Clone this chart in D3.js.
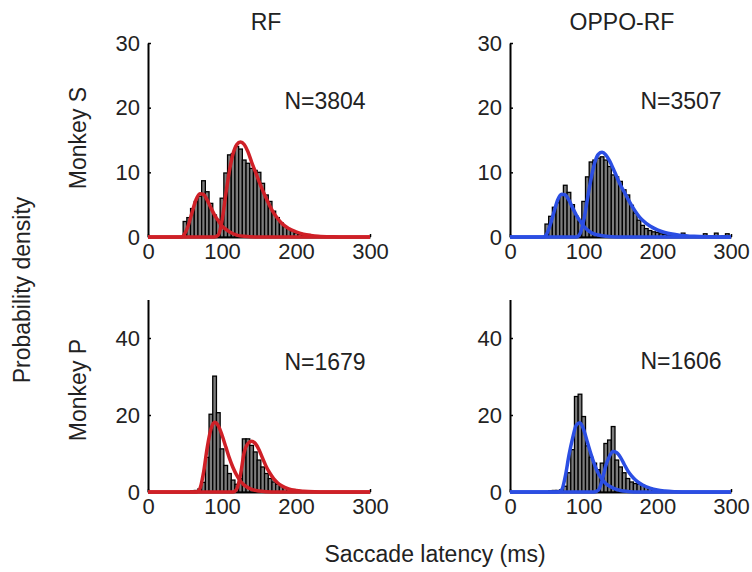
<!DOCTYPE html>
<html>
<head>
<meta charset="utf-8">
<script src="https://cdn.jsdelivr.net/npm/d3@7"></script>
<style>
  body { margin: 0; background: #fff; }
  text { font-family: "Liberation Sans", Arial, sans-serif; fill: #222; }
</style>
</head>
<body>
<div id="chart"></div>
<script>
var svgWidth = 752;
var svgHeight = 572;

// tick labels
var xTicks = [0, 100, 200, 300];
var yTicksS = [0, 10, 20, 30];
var yTicksP = [0, 20, 40];

// histogram bins are 5 ms wide, values listed from the first bin centre
var binWidth = 5;

// Monkey S, RF (first bin centre 50 ms)
var histSRF = [2.4, 3.0, 4.4, 5.5, 6.3, 8.7, 7.0, 5.2, 3.4, 2.6, 6.0, 9.9, 12.7, 12.9, 14.0, 13.6,
  11.9, 11.4, 10.6, 10.3, 10.0, 8.3, 6.5, 5.5, 4.0, 3.0, 2.2, 1.6, 1.3, 0.9, 0.6, 0.4, 0.3, 0.2, 0.1];
// Monkey S, OPPO-RF (first bin centre 50 ms)
var histSOPPO = [2.0, 3.2, 4.6, 5.3, 6.5, 8.0, 6.9, 5.0, 3.2, 2.4, 5.5, 9.3, 11.6, 11.9, 12.2, 12.4,
  11.9, 10.9, 9.6, 9.3, 8.6, 7.3, 6.5, 4.9, 3.7, 2.6, 1.8, 1.3, 1.0, 0.8, 0.7, 0.5, 0.4, 0.3, 0.3,
  0.2, 0.2, 0.6, 0.1, 0.1, 0.1, 0.2, 0.1, 0.5, 0.2, 0.1, 0.6, 0.1, 0.2, 0.5];
// Monkey P, RF (first bin centre 60 ms)
var histPRF = [0.3, 0.4, 0.8, 2.5, 9.0, 20.2, 30.1, 20.6, 11.2, 6.9, 4.8, 3.1, 2.0, 3.5, 13.8, 13.8,
  12.1, 10.4, 8.3, 6.5, 4.8, 3.5, 2.6, 2.0, 1.4, 1.0, 0.8, 0.6, 0.4, 0.2];
// Monkey P, OPPO-RF (first bin centre 55 ms)
var histPOPPO = [0.3, 0.4, 0.4, 0.6, 1.5, 5.0, 11.0, 24.8, 25.4, 19.6, 12.0, 9.0, 7.5, 5.8, 7.5, 12.6,
  13.5, 17.0, 8.3, 6.5, 5.0, 3.5, 2.6, 2.2, 2.0, 1.8, 1.3, 1.0, 0.8, 0.6, 0.2];

// fitted components, [latency ms, density]
var fitSRFfast = [[0, 0], [45, 0], [50, 0.6], [55, 2.0], [60, 4.0], [65, 5.8], [70, 6.7], [75, 6.6],
  [80, 5.7], [85, 4.5], [90, 3.4], [95, 2.5], [100, 1.7], [105, 1.2], [110, 0.8], [115, 0.5],
  [120, 0.3], [130, 0.1], [145, 0], [300, 0]];
var fitSRFslow = [[0, 0], [90, 0], [95, 0.3], [100, 2.5], [105, 6.5], [110, 10.2], [115, 12.9],
  [120, 14.3], [125, 14.7], [130, 14.3], [135, 13.2], [140, 11.6], [145, 10.1], [150, 8.6],
  [155, 7.2], [160, 5.9], [165, 4.7], [170, 3.7], [175, 2.9], [180, 2.2], [190, 1.3], [200, 0.8],
  [210, 0.45], [220, 0.25], [230, 0.12], [250, 0.03], [265, 0], [300, 0]];
var fitSOPPOfast = [[0, 0], [45, 0], [50, 0.5], [55, 2.0], [60, 4.0], [65, 5.8], [70, 6.6], [75, 6.5],
  [80, 5.7], [85, 4.5], [90, 3.4], [95, 2.5], [100, 1.7], [105, 1.1], [110, 0.7], [115, 0.45],
  [120, 0.3], [130, 0.1], [145, 0], [300, 0]];
var fitSOPPOslow = [[0, 0], [90, 0], [95, 0.5], [100, 2.5], [105, 5.8], [110, 9.0], [115, 11.5],
  [120, 12.8], [125, 13.1], [130, 12.7], [135, 11.8], [140, 10.6], [145, 9.3], [150, 8.0],
  [155, 7.0], [160, 5.9], [165, 4.9], [170, 4.0], [175, 3.2], [180, 2.6], [190, 1.7], [200, 1.1],
  [210, 0.7], [220, 0.45], [230, 0.28], [250, 0.1], [270, 0.03], [290, 0], [300, 0]];
var fitPRFfast = [[0, 0], [65, 0], [70, 0.8], [75, 5.0], [80, 11.5], [85, 16.3], [90, 18.1],
  [95, 17.2], [100, 14.8], [105, 11.8], [110, 8.8], [115, 6.3], [120, 4.3], [125, 2.8], [130, 1.8],
  [140, 0.7], [150, 0.25], [160, 0.08], [175, 0], [300, 0]];
var fitPRFslow = [[0, 0], [115, 0], [120, 0.8], [125, 4.5], [130, 10.3], [135, 12.6], [140, 13.2],
  [145, 12.6], [150, 11.0], [155, 8.7], [160, 6.5], [165, 4.8], [170, 3.4], [175, 2.4], [180, 1.7],
  [190, 0.8], [200, 0.4], [210, 0.2], [225, 0.05], [240, 0], [300, 0]];
var fitPOPPOfast = [[0, 0], [65, 0], [70, 0.5], [75, 4.0], [80, 9.5], [85, 14.0], [90, 17.4],
  [95, 18.0], [100, 16.2], [105, 13.0], [110, 9.8], [115, 7.0], [120, 4.8], [125, 3.3], [130, 2.2],
  [140, 1.0], [150, 0.4], [160, 0.15], [175, 0], [300, 0]];
var fitPOPPOslow = [[0, 0], [115, 0], [120, 0.5], [125, 3.0], [130, 6.8], [135, 9.3], [140, 10.5],
  [145, 10.2], [150, 9.0], [155, 7.2], [160, 5.5], [165, 4.2], [170, 3.2], [175, 2.4], [180, 1.8],
  [190, 1.0], [200, 0.5], [210, 0.25], [225, 0.08], [240, 0], [300, 0]];

var red = "#cf2027";
var blue = "#2b4ee3";

var panels = [
  { left: 148, right: 370, bottom: 237, top: 43, yMax: 30, yTicks: yTicksS,
    hist: histSRF, firstBin: 50, fits: [fitSRFfast, fitSRFslow], color: red,
    label: "N=3804", lx: 325, ly: 109 },
  { left: 510, right: 731, bottom: 237, top: 43, yMax: 30, yTicks: yTicksS,
    hist: histSOPPO, firstBin: 50, fits: [fitSOPPOfast, fitSOPPOslow], color: blue,
    label: "N=3507", lx: 681, ly: 109 },
  { left: 148, right: 370, bottom: 492, top: 299.5, yMax: 50, yTicks: yTicksP,
    hist: histPRF, firstBin: 60, fits: [fitPRFfast, fitPRFslow], color: red,
    label: "N=1679", lx: 325, ly: 370 },
  { left: 510, right: 731, bottom: 492, top: 299.5, yMax: 50, yTicks: yTicksP,
    hist: histPOPPO, firstBin: 55, fits: [fitPOPPOfast, fitPOPPOslow], color: blue,
    label: "N=1606", lx: 681, ly: 369 }
];

var svg = d3
  .select("#chart")
  .append("svg")
  .attr("width", svgWidth)
  .attr("height", svgHeight);

panels.forEach(function (p) {
  var xScale = d3.scaleLinear().domain([0, 300]).range([p.left, p.right]);
  var yScale = d3.scaleLinear().domain([0, p.yMax]).range([p.bottom, p.top]);
  var g = svg.append("g");

  // axes first, so the fits sit on top of the baseline
  var bottomAxis = d3.axisBottom(xScale).tickValues(xTicks).tickSizeInner(-3).tickSizeOuter(0).tickPadding(6);
  var leftAxis = d3.axisLeft(yScale).tickValues(p.yTicks).tickSizeInner(-3).tickSizeOuter(0).tickPadding(8);
  var gx = g.append("g").attr("transform", `translate(0, ${p.bottom})`).call(bottomAxis);
  var gy = g.append("g").attr("transform", `translate(${p.left}, 0)`).call(leftAxis);
  [gx, gy].forEach(function (a) {
    a.select(".domain").attr("stroke", "#000").attr("stroke-width", 2);
    a.selectAll(".tick line").attr("stroke", "#000").attr("stroke-width", 1.5);
    a.selectAll(".tick text").style("font-size", "22px").attr("fill", "#222");
  });

  // histogram bars
  g.append("g")
    .selectAll("rect")
    .data(p.hist)
    .enter()
    .append("rect")
    .attr("x", (d, i) => xScale(p.firstBin + i * binWidth - binWidth / 2))
    .attr("width", xScale(binWidth) - xScale(0))
    .attr("y", (d) => yScale(d))
    .attr("height", (d) => yScale(0) - yScale(d))
    .attr("fill", "#7c7c7c")
    .attr("stroke", "#000")
    .attr("stroke-width", 1.3);

  // fitted curves
  var line = d3
    .line()
    .x((d) => xScale(d[0]))
    .y((d) => yScale(d[1]))
    .curve(d3.curveMonotoneX);
  g.append("g")
    .selectAll("path")
    .data(p.fits)
    .enter()
    .append("path")
    .attr("d", line)
    .attr("fill", "none")
    .attr("stroke", p.color)
    .attr("stroke-width", 3.5)
    .attr("stroke-linejoin", "round");

  g.append("text")
    .text(p.label)
    .attr("x", p.lx)
    .attr("y", p.ly)
    .style("text-anchor", "middle")
    .style("font-size", "23px");
});

// titles and labels
svg.append("text").text("RF").attr("x", 266).attr("y", 30)
  .style("text-anchor", "middle").style("font-size", "23px");
svg.append("text").text("OPPO-RF").attr("x", 622).attr("y", 30)
  .style("text-anchor", "middle").style("font-size", "23px");
svg.append("text").text("Monkey S")
  .attr("transform", "translate(86,138) rotate(-90)")
  .style("text-anchor", "middle").style("font-size", "23px");
svg.append("text").text("Monkey P")
  .attr("transform", "translate(86,390) rotate(-90)")
  .style("text-anchor", "middle").style("font-size", "23px");
svg.append("text").text("Probability density")
  .attr("transform", "translate(30,290) rotate(-90)")
  .style("text-anchor", "middle").style("font-size", "23px");
svg.append("text").text("Saccade latency (ms)").attr("x", 435).attr("y", 562)
  .style("text-anchor", "middle").style("font-size", "23px");
</script>
</body>
</html>
